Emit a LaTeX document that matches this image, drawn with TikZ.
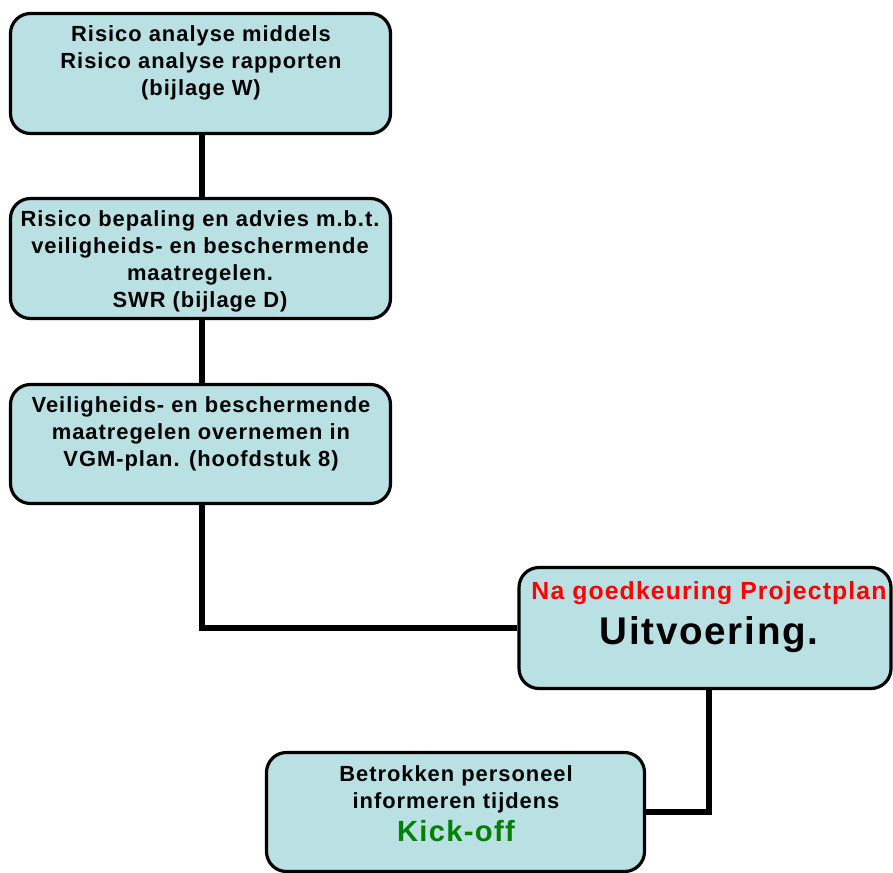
\documentclass[tikz,border=0pt]{standalone}
\usepackage{fontspec}
\setmainfont{Liberation Sans}[LetterSpace=4.5]
\usetikzlibrary{backgrounds}
\definecolor{boxfill}{RGB}{185,224,227}
\definecolor{kickgreen}{RGB}{0,128,0}
\begin{document}
\begin{tikzpicture}[x=1pt,y=-1pt,
  box/.style={draw=black,line width=3.2pt,fill=boxfill,rounded corners=20pt,inner sep=0pt},
  wire/.style={line width=6pt},
  boxtext/.style={anchor=north,inner sep=0pt,align=center,font=\bfseries\fontsize{21.9}{27}\selectfont}]
\useasboundingbox (0,0) rectangle (893,872);

% process boxes
\node[box,minimum width=380pt,minimum height=120pt] (b1) at (200.5,73.5) {};
\node[box,minimum width=380pt,minimum height=120pt] (b2) at (200.5,258.5) {};
\node[box,minimum width=380pt,minimum height=119pt] (b3) at (200.5,444) {};
\node[box,minimum width=372pt,minimum height=121pt] (b4) at (705,628) {};
\node[box,minimum width=378pt,minimum height=119pt] (b5) at (455.5,812) {};

% box texts
\node[boxtext] (t1) at (201,25.5) {Risico analyse middels\\Risico analyse rapporten\\(bijlage W)};
\node[boxtext] (t2) at (200,210.5) {Risico bepaling en advies m.b.t.\\veiligheids- en beschermende\\maatregelen.\\SWR (bijlage D)};
\node[boxtext] (t3) at (201,396.5) {Veiligheids- en beschermende\\maatregelen overnemen in\\VGM-plan. (hoofdstuk 8)};
\node[boxtext] (t4) at (709,581) {{\color{red}\fontsize{24.8}{27}\selectfont Na goedkeuring Projectplan}\\[11pt]{\fontsize{38.6}{44}\selectfont Uitvoering.}};
\node[boxtext] (t5) at (456,765.5) {Betrokken personeel\\informeren tijdens\\[6pt]{\color{kickgreen}\fontsize{29.2}{33}\selectfont Kick-off}};

% connectors behind the boxes
\begin{scope}[on background layer]
  \draw[wire] ([xshift=1pt]b1.south) -- ([xshift=1pt]b2.north);
  \draw[wire] ([xshift=1pt]b2.south) -- ([xshift=1pt]b3.north);
  \draw[wire] ([xshift=1pt]b3.south) |- (b4.west);
  \draw[wire] ([xshift=4pt]b4.south) |- (b5.east);
\end{scope}
\end{tikzpicture}
\end{document}
